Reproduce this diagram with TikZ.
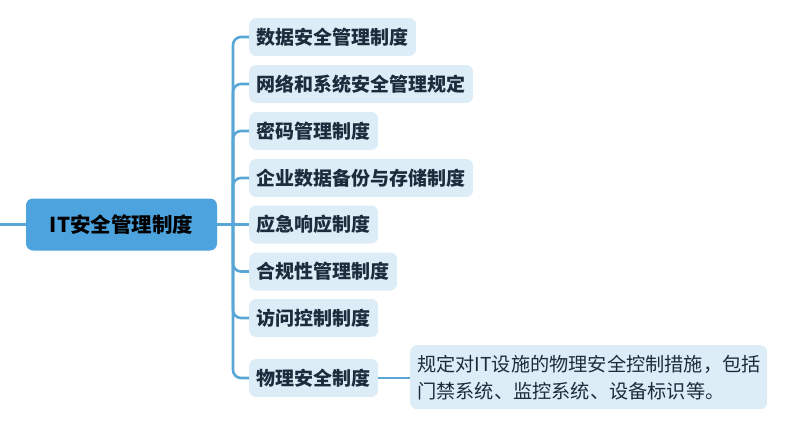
\documentclass[tikz,border=0pt]{standalone}
\usepackage{fontspec}
\setmainfont{Noto Sans CJK SC}
\usepackage{tikz}

\definecolor{rootblue}{RGB}{76,163,221}
\definecolor{leafblue}{RGB}{221,237,248}
\definecolor{linkblue}{RGB}{88,167,214}
\definecolor{inkdark}{RGB}{28,44,60}

\begin{document}
\begin{tikzpicture}[
      x=1pt, y=-1pt,
      link/.style={draw=linkblue, line width=2.6pt},
      rootbox/.style={fill=rootblue, rounded corners=7pt, minimum width=191pt,
        minimum height=52pt, font=\bfseries\fontsize{20.5}{24}\selectfont, text=black},
      leaf/.style={fill=leafblue, rounded corners=7pt, anchor=west, minimum height=38pt,
        inner xsep=7.5pt, font=\bfseries\fontsize{19}{22}\selectfont, text=inkdark},
      notebox/.style={fill=leafblue, rounded corners=7pt, anchor=north west,
        text width=343pt, minimum height=64pt, align=left, inner xsep=7pt,
        font=\fontsize{19.2}{27}\selectfont, text=inkdark}
    ]

    \path[use as bounding box] (0,0) rectangle (790,423);

    % Root topic
    \node[rootbox] (root) at (121.5,224.5) {IT安全管理制度};
    \coordinate (inlet) at (0,224.5);
    \coordinate (trunk) at (233,224.5);

    % Subtopics
    \node[leaf] (c1) at (249,37) {数据安全管理制度};
    \node[leaf] (c2) at (249,84) {网络和系统安全管理规定};
    \node[leaf] (c3) at (249,131) {密码管理制度};
    \node[leaf] (c4) at (249,178) {企业数据备份与存储制度};
    \node[leaf] (c5) at (249,224.5) {应急响应制度};
    \node[leaf] (c6) at (249,271.5) {合规性管理制度};
    \node[leaf] (c7) at (249,318) {访问控制制度};
    \node[leaf] (c8) at (249,378) {物理安全制度};

    % Note on the last subtopic
    \node[notebox] (note) at (410,345)
    {规定对IT设施的物理安全控制措施，包括\\门禁系统、监控系统、设备标识等。};

    % Links
    \draw[link] (inlet) -- (root.west);
    \draw[link] (root.east) -- (trunk);
    \draw[link, rounded corners=8pt] (trunk) |- (c1.west);
    \draw[link, rounded corners=8pt] (trunk) |- (c2.west);
    \draw[link, rounded corners=8pt] (trunk) |- (c3.west);
    \draw[link, rounded corners=8pt] (trunk) |- (c4.west);
    \draw[link] (trunk) -- (c5.west);
    \draw[link, rounded corners=8pt] (trunk) |- (c6.west);
    \draw[link, rounded corners=8pt] (trunk) |- (c7.west);
    \draw[link, rounded corners=8pt] (trunk) |- (c8.west);
    \draw[link] (c8.east) -- (note.west |- c8.east);

  \end{tikzpicture}
\end{document}
